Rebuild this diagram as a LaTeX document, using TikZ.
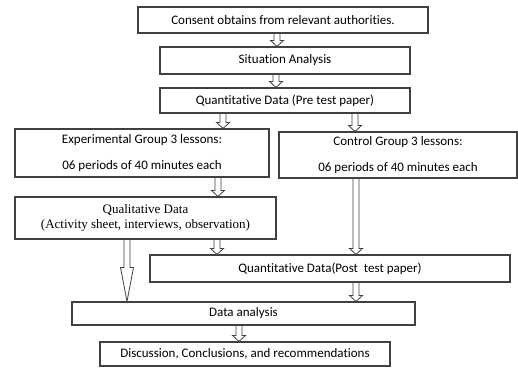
\documentclass[tikz,border=0pt]{standalone}
\usepackage{fontspec}
\setmainfont{Carlito}[Ligatures=NoCommon]
\newfontfamily\timesfont{Liberation Serif}
\usetikzlibrary{calc}
\tikzset{
	box/.style={draw=black!75, line width=1.1pt, inner sep=0pt, align=center, font=\fontsize{13}{15.5}\selectfont},
	arrowline/.style={draw=black!75, line width=0.8pt, fill=white, line join=miter}
}
% hollow block arrow: [head length]{x}{from}{to}
\newcommand\hollowarrow[4][6]{%
	\draw[arrowline] let \p1=(#3.south), \p2=(#4.north) in
	(#2pt-3pt,\y1) -- (#2pt-3pt,\y2+#1pt) -- (#2pt-6.5pt,\y2+#1pt) -- (#2pt,\y2)
	-- (#2pt+6.5pt,\y2+#1pt) -- (#2pt+3pt,\y2+#1pt) -- (#2pt+3pt,\y1) -- cycle;
}

\begin{document}
\begin{tikzpicture}[x=1pt,y=-1pt]
			\useasboundingbox (0,0) rectangle (518,367);
			\node[box, minimum width=290pt, minimum height=26pt] (consent) at (283,20) {Consent obtains from relevant authorities.};
			\node[box, minimum width=250pt, minimum height=27pt] (situation) at (285,60.5) {Situation Analysis};
			\node[box, minimum width=250pt, minimum height=25pt] (pretest) at (285,100.5) {Quantitative Data (Pre test paper)};
			\node[box, minimum width=254pt, minimum height=48pt] (experimental) at (142,153) {Experimental Group 3 lessons:\\[10pt]06 periods of 40 minutes each};
			\node[box, minimum width=238pt, minimum height=46pt] (control) at (398,155) {Control Group 3 lessons:\\[10pt]06 periods of 40 minutes each};
			\node[box, minimum width=261pt, minimum height=42pt, font=\timesfont\fontsize{13}{15}\selectfont] (qualitative) at (145.5,218) {Qualitative Data\\(Activity sheet, interviews, observation)};
			\node[box, minimum width=360pt, minimum height=27pt] (posttest) at (330,268.5) {Quantitative Data(Post\ \ test paper)};
			\node[box, minimum width=343pt, minimum height=23pt] (analysis) at (243.5,313.5) {Data analysis};
			\node[box, minimum width=290pt, minimum height=24pt] (discussion) at (245,354) {Discussion, Conclusions, and recommendations};
			\hollowarrow{277}{consent}{situation}
			\hollowarrow{276}{situation}{pretest}
			\hollowarrow{223}{pretest}{experimental}
			\hollowarrow{355}{pretest}{control}
			\hollowarrow{218}{experimental}{qualitative}
			\hollowarrow{356}{control}{posttest}
			\hollowarrow{217}{qualitative}{posttest}
			\hollowarrow[34]{127}{qualitative}{analysis}
			\hollowarrow{356}{posttest}{analysis}
			\hollowarrow{239}{analysis}{discussion}
		\end{tikzpicture}
\end{document}
